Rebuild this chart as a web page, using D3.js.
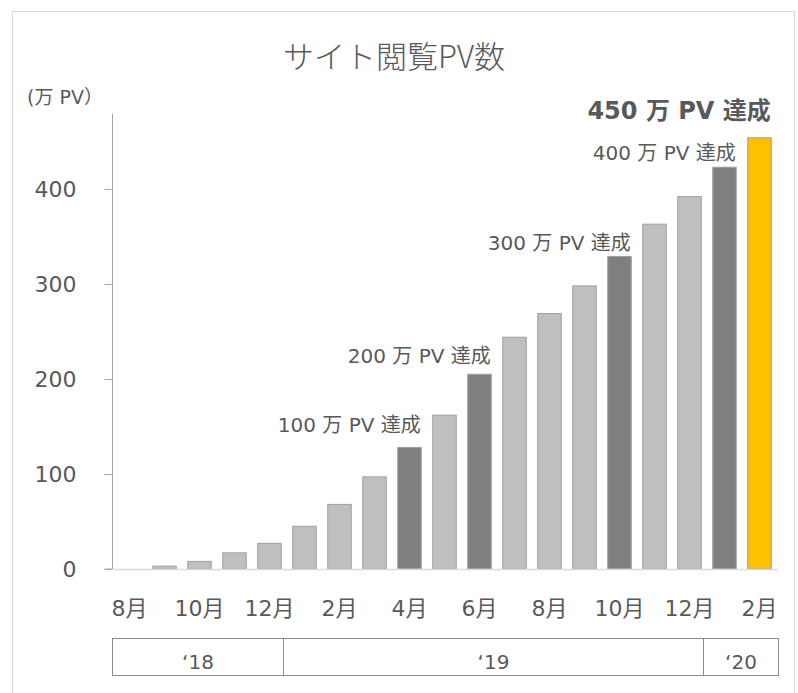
<!doctype html>
<html>
<head>
<meta charset="utf-8">
<title>サイト閲覧PV数</title>
<script src="https://d3js.org/d3.v7.min.js"></script>
<style>
  body { margin:0; background:#fff; }
  text { font-family:"DejaVu Sans","Noto Sans CJK JP",sans-serif; fill:#595959; }
</style>
</head>
<body>
<svg></svg>
<script>
// data
const months = ['8月','9月','10月','11月','12月','1月','2月','3月','4月','5月','6月','7月',
                '8月','9月','10月','11月','12月','1月','2月'];
const values = [0, 3, 8, 17, 27, 45, 68, 97, 128, 162, 205, 244, 269, 298, 329, 363, 392, 423, 454];
const kind = ['n','n','n','n','n','n','n','n','m','n','m','n','n','n','m','n','n','m','g'];
const years = ["‘18", "‘19", "‘20"];
const yearMonths = [5, 12, 2];
const yTicks = [0, 100, 200, 300, 400];
const milestones = [8, 10, 14, 17, 18];
const milestoneText = ['100 万 PV 達成','200 万 PV 達成','300 万 PV 達成','400 万 PV 達成','450 万 PV 達成'];
const labelLift = [15, 11, 6, 7, 19];

const W = 798, H = 693;
const plotL = 112, plotR = 777, plotT = 114, plotB = 569;

const svg = d3.select('svg').attr('width', W).attr('height', H);

svg.append('rect')
   .attr('x', 12.5).attr('y', 11.5)
   .attr('width', 782).attr('height', 700)
   .attr('fill', 'none').attr('stroke', '#d9d9d9');

const x = d3.scaleBand()
            .domain(d3.range(months.length))
            .range([plotL, plotR])
            .paddingInner(0.3)
            .paddingOuter(0.15);
const y = d3.scaleLinear()
            .domain([0, 479])
            .range([plotB, plotT]);

// title
svg.append('text')
   .attr('x', 394).attr('y', 68)
   .attr('text-anchor', 'middle')
   .style('font-family', '"Noto Sans CJK JP",sans-serif')
   .style('font-weight', 300)
   .style('font-size', '31px')
   .text('サイト閲覧PV数');

svg.append('text')
   .attr('x', 27).attr('y', 104)
   .style('font-size', '19px')
   .text('(万 PV）');

// bars
const colors = { n:'#bfbfbf', m:'#7f7f7f', g:'#ffc000' };
svg.selectAll('rect.bar')
   .data(values)
   .enter()
   .append('rect')
   .attr('class', 'bar')
   .attr('x', (d, i) => x(i) + 0.5)
   .attr('y', d => y(d))
   .attr('width', x.bandwidth() - 1)
   .attr('height', d => plotB - y(d))
   .attr('fill', (d, i) => colors[kind[i]])
   .attr('stroke', (d, i) => d > 0 ? '#a0a0a0' : 'none')
   .attr('stroke-width', 1);

// y axis
const yAxis = svg.append('g')
   .attr('transform', `translate(${plotL + 0.5},0)`)
   .call(d3.axisLeft(y).tickValues(yTicks).tickSize(8).tickPadding(28));
yAxis.select('.domain').attr('stroke', '#a6a6a6').attr('d', `M-8,${plotB}H0V${plotT}`);
yAxis.selectAll('.tick line').attr('stroke', '#a6a6a6');
yAxis.selectAll('.tick text')
     .style('font-size', '22px').attr('fill', '#595959')
     .style('font-family', '"DejaVu Sans","Noto Sans CJK JP",sans-serif');

// x axis line
svg.append('line')
   .attr('x1', plotL).attr('x2', plotR + 1)
   .attr('y1', plotB + 0.5).attr('y2', plotB + 0.5)
   .attr('stroke', '#d9d9d9').attr('stroke-width', 1.5);

// month labels every second month
svg.selectAll('text.month')
   .data(months.filter((m, i) => i % 2 === 0))
   .enter()
   .append('text')
   .attr('class', 'month')
   .attr('x', (d, i) => x(i * 2) + x.bandwidth() / 2)
   .attr('y', 616)
   .attr('text-anchor', 'middle')
   .style('font-size', '22px')
   .text(d => d);

// year table
const starts = yearMonths.map((n, i) => d3.sum(yearMonths.slice(0, i)));
const tableX = i => i === 0 ? plotL + 0.5 : x(i) - x.step() * 0.15 - 4 + 0.5;
const tableRight = plotR + 1.5;
const tTop = 638.5, tBot = 675.5;
svg.append('rect')
   .attr('x', plotL + 0.5).attr('y', tTop)
   .attr('width', tableRight - plotL - 0.5).attr('height', tBot - tTop)
   .attr('fill', 'none').attr('stroke', '#8c8c8c');
svg.selectAll('line.div')
   .data(starts.slice(1))
   .enter()
   .append('line')
   .attr('class', 'div')
   .attr('x1', d => tableX(d)).attr('x2', d => tableX(d))
   .attr('y1', tTop).attr('y2', tBot)
   .attr('stroke', '#8c8c8c');
svg.selectAll('text.year')
   .data(years)
   .enter()
   .append('text')
   .attr('class', 'year')
   .attr('x', (d, i) => {
       const a = tableX(starts[i]);
       const b = i < years.length - 1 ? tableX(starts[i + 1]) : tableRight;
       return (a + b) / 2;
   })
   .attr('y', 669)
   .attr('text-anchor', 'middle')
   .style('font-size', '20px')
   .text(d => d);

// milestone labels
svg.selectAll('text.ms')
   .data(milestones)
   .enter()
   .append('text')
   .attr('class', 'ms')
   .attr('x', d => x(d) + x.bandwidth() - 1)
   .attr('y', (d, i) => y(values[d]) - labelLift[i])
   .attr('text-anchor', 'end')
   .style('font-size', (d, i) => i === milestones.length - 1 ? '24px' : '20px')
   .style('font-weight', (d, i) => i === milestones.length - 1 ? 'bold' : 'normal')
   .attr('fill', (d, i) => i === milestones.length - 1 ? '#404040' : '#595959')
   .text((d, i) => milestoneText[i]);
</script>
</body>
</html>
